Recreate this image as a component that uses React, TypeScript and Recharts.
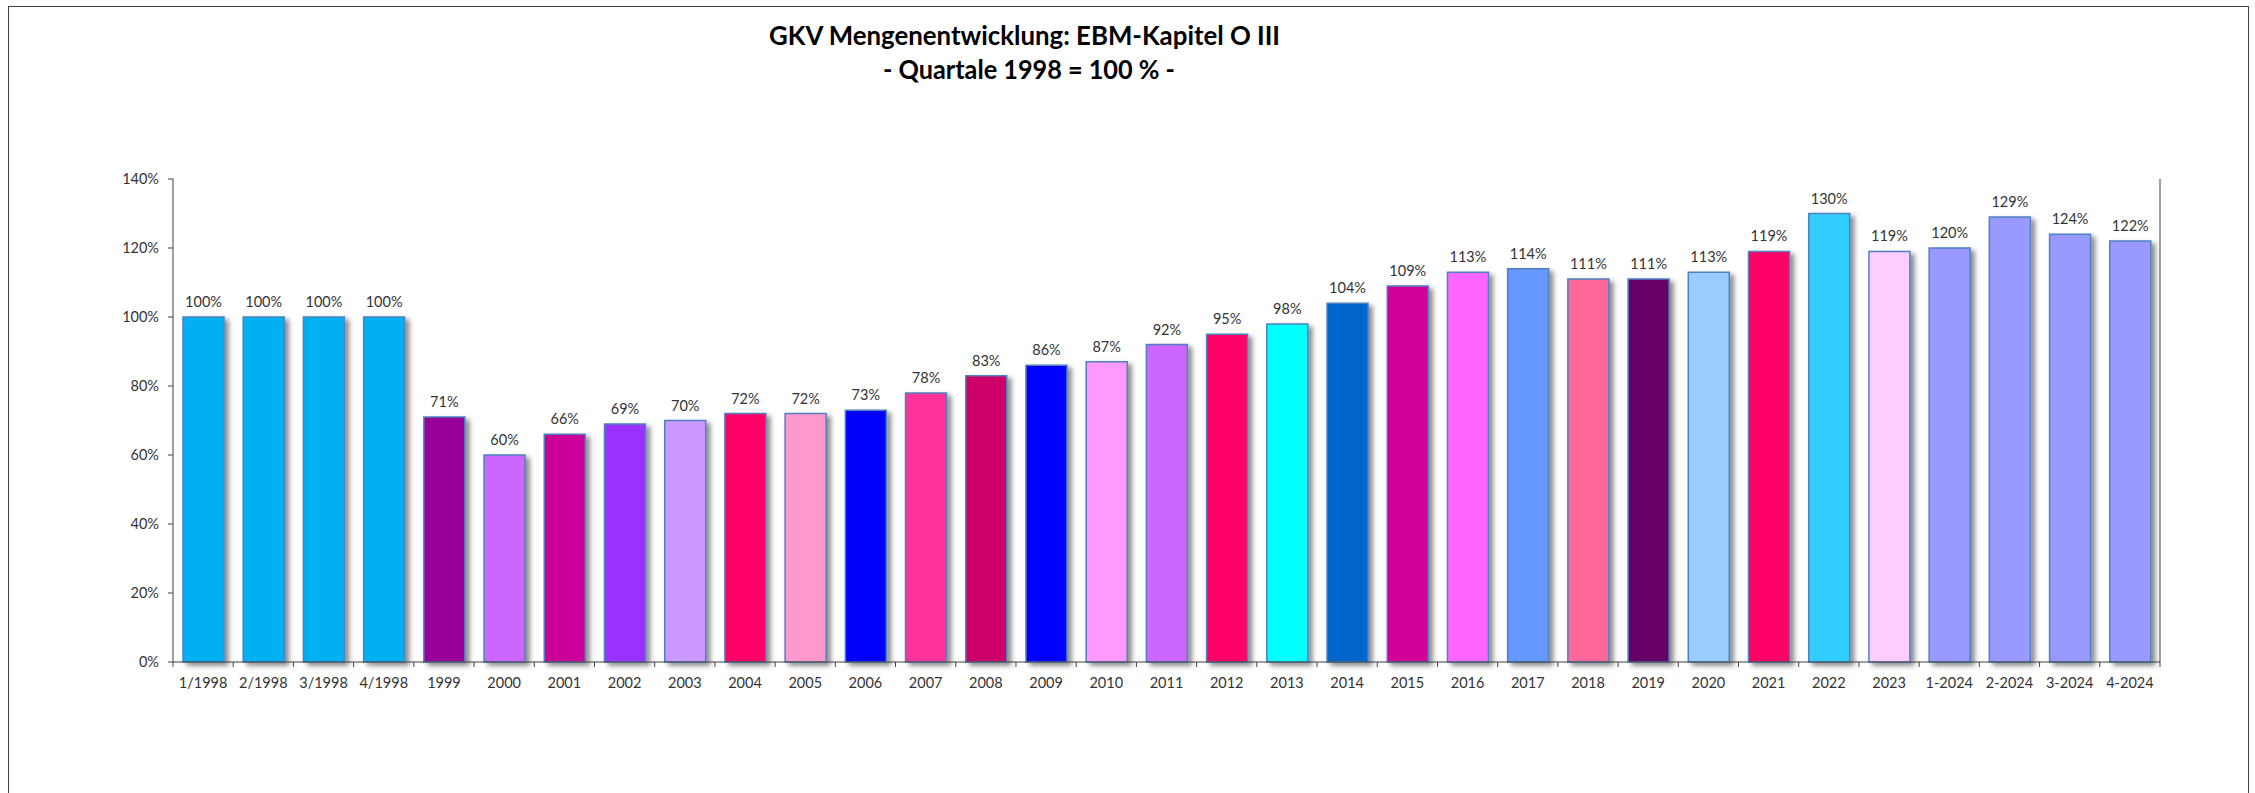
import React from "react";
import {
  BarChart,
  Bar,
  XAxis,
  YAxis,
  Cell,
  LabelList,
} from "recharts";

const categories = [
  "1/1998", "2/1998", "3/1998", "4/1998", "1999", "2000", "2001", "2002",
  "2003", "2004", "2005", "2006", "2007", "2008", "2009", "2010", "2011",
  "2012", "2013", "2014", "2015", "2016", "2017", "2018", "2019", "2020",
  "2021", "2022", "2023", "1-2024", "2-2024", "3-2024", "4-2024",
];

const values = [
  100, 100, 100, 100, 71, 60, 66, 69, 70, 72, 72, 73, 78, 83, 86, 87, 92,
  95, 98, 104, 109, 113, 114, 111, 111, 113, 119, 130, 119, 120, 129, 124, 122,
];

const barColors = [
  "#00B0F0", "#00B0F0", "#00B0F0", "#00B0F0", "#990099", "#CC66FF", "#CC0099",
  "#9933FF", "#CC99FF", "#FF0066", "#FF99CC", "#0000FF", "#FF3399", "#CC0066",
  "#0000FF", "#FF99FF", "#CC66FF", "#FF0066", "#00FFFF", "#0066CC", "#D20096",
  "#FF66FF", "#6699FF", "#FF6699", "#660066", "#99CCFF", "#FF0066", "#33CCFF",
  "#FFCCFF", "#9999FF", "#9999FF", "#9999FF", "#9999FF",
];

const yTicks = [0, 20, 40, 60, 80, 100, 120, 140];

const data = categories.map((name, i) => ({ name, value: values[i] }));

const W = 2255;
const H = 793;
const Y_AXIS_W = 60;
const RIGHT_AXIS_W = 1;
const MARGIN = { top: 179, right: 94, left: 113, bottom: 101 };
const PLOT_W = W - MARGIN.left - MARGIN.right - Y_AXIS_W - RIGHT_AXIS_W;
const STEP = PLOT_W / categories.length;
const FONT = "Lato, 'Open Sans', sans-serif";
const TEXT = "#333333";
const AXIS = "#404040";

function XTick(props: any) {
  const { x, y, payload, index } = props;
  const left = x - STEP / 2;
  const last = index === categories.length - 1;
  return (
    <g>
      <line x1={left} y1={y} x2={left} y2={y + 5} stroke={AXIS} />
      {last && <line x1={x + STEP / 2} y1={y} x2={x + STEP / 2} y2={y + 5} stroke={AXIS} />}
      <text
        x={x}
        y={y + 26}
        textAnchor="middle"
        fill={TEXT}
        fontSize={14.5}
        fontFamily={FONT}
      >
        {payload.value}
      </text>
    </g>
  );
}

export default function App() {
  return (
    <div style={{ position: "absolute", left: 0, top: 0, width: W, height: H, background: "#fff", fontFamily: FONT }}>
      <div
        style={{
          position: "absolute",
          left: 8,
          top: 6,
          width: 2241,
          height: H,
          borderLeft: "1px solid #404040",
          borderTop: "1px solid #404040",
          borderRight: "1px solid #404040",
          boxSizing: "border-box",
        }}
      />
      <svg width={W} height={110} style={{ position: "absolute", left: 0, top: 0 }}>
        <text
          x={1024.5}
          y={45}
          textAnchor="middle"
          fontFamily={FONT}
          fontWeight="bold"
          fontSize={26}
          fill="#000"
          textLength={511}
          lengthAdjust="spacingAndGlyphs"
        >
          GKV Mengenentwicklung: EBM-Kapitel O III
        </text>
        <text
          x={1029}
          y={79}
          textAnchor="middle"
          fontFamily={FONT}
          fontWeight="bold"
          fontSize={26}
          fill="#000"
          textLength={292}
          lengthAdjust="spacingAndGlyphs"
        >
          - Quartale 1998 = 100 % -
        </text>
      </svg>
      <div style={{ position: "absolute", left: 0, top: 0 }}>
        <BarChart width={W} height={H} data={data} margin={MARGIN}>
          <defs>
            <filter id="barShadow" x="-20%" y="-5%" width="150%" height="115%">
              <feDropShadow dx="4" dy="3" stdDeviation="2.5" floodColor="#000" floodOpacity="0.45" />
            </filter>
          </defs>
          <XAxis
            dataKey="name"
            interval={0}
            tickSize={0}
            tickMargin={0}
            tickLine={false}
            axisLine={{ stroke: AXIS }}
            tick={<XTick />}
            height={30}
          />
          <XAxis
            xAxisId="top"
            dataKey="name"
            orientation="top"
            tick={false}
            tickLine={false}
            axisLine={{ stroke: AXIS }}
            height={0}
          />
          <YAxis
            domain={[0, 140]}
            ticks={yTicks}
            interval={0}
            tickFormatter={(v: number) => `${v}%`}
            tickSize={5}
            tickMargin={9}
            tick={{ fill: TEXT, fontSize: 14.5, fontFamily: FONT }}
            tickLine={{ stroke: AXIS }}
            axisLine={{ stroke: AXIS }}
            width={Y_AXIS_W}
          />
          <YAxis
            yAxisId="right"
            orientation="right"
            tick={false}
            tickLine={false}
            axisLine={{ stroke: AXIS }}
            width={RIGHT_AXIS_W}
          />
          <Bar
            dataKey="value"
            barSize={41}
            stroke="#4F81BD"
            strokeWidth={1.5}
            isAnimationActive={false}
            style={{ filter: "url(#barShadow)" }}
          >
            {data.map((d, i) => (
              <Cell key={d.name} fill={barColors[i]} />
            ))}
            <LabelList
              dataKey="value"
              position="top"
              offset={10}
              formatter={(v: any) => `${v}%`}
              fill={TEXT}
              fontSize={14.5}
              fontFamily={FONT}
            />
          </Bar>
        </BarChart>
      </div>
    </div>
  );
}
